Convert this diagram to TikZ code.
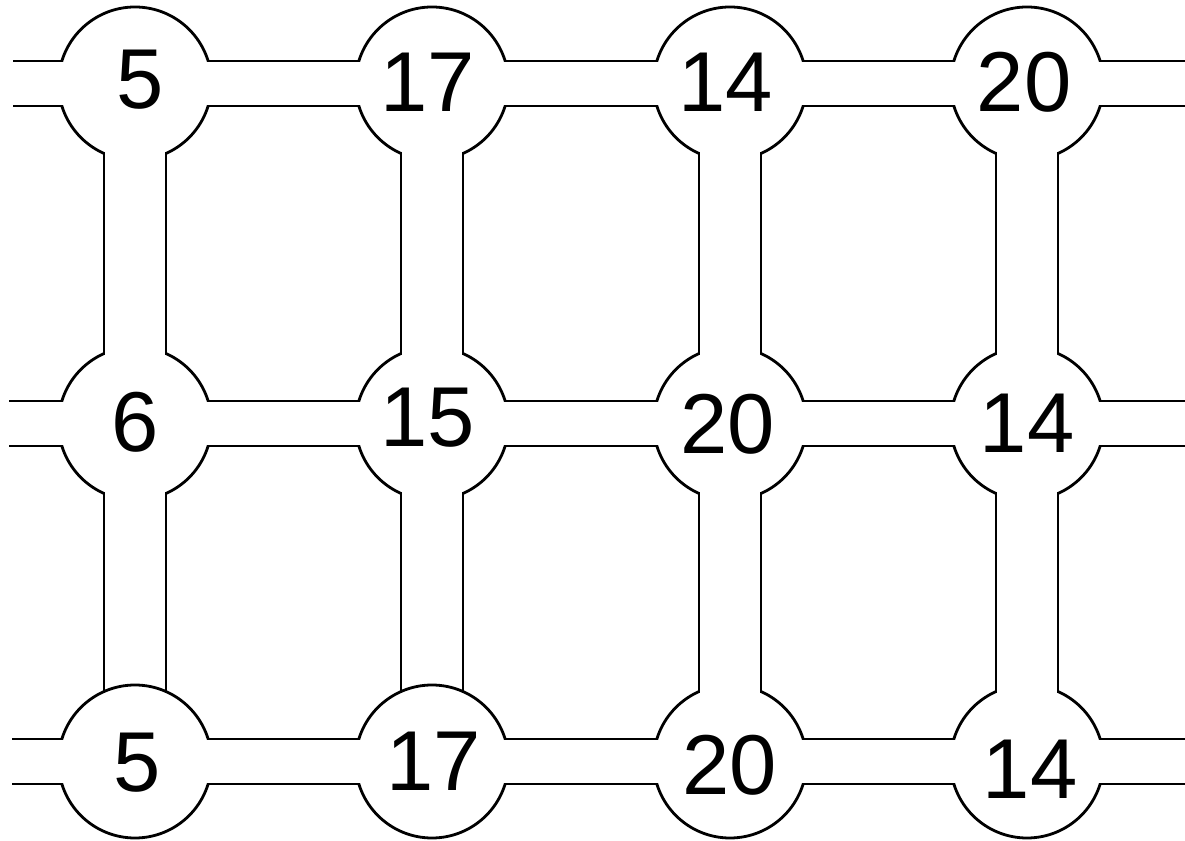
\documentclass[tikz,border=0pt]{standalone}
\usepackage{fontspec}
\setmainfont{Liberation Sans}
\usetikzlibrary{calc}

\begin{document}
\begin{tikzpicture}[x=1pt,y=1pt,
  room/.style={circle,draw=black,fill=white,line width=2.8pt,
               minimum size=153pt,inner sep=0pt},
  num/.style={font=\fontsize{85}{85}\selectfont,inner sep=0pt},
  hall/.style={draw=black,line width=2.8pt,double=white,
               double distance=42.2pt},
  shaft/.style={draw=black,line width=2.8pt,double=white,
                double distance=59.2pt},
  hallgap/.style={draw=white,line width=42.2pt},
  shaftgap/.style={draw=white,line width=59.2pt}
]
  \useasboundingbox (0,0) rectangle (1185,840);
  \clip (0,0) rectangle (1185,840);

  % ---- Room centres and free corridor ends --------------------
  \coordinate (c11) at (135,756.5);  \coordinate (c12) at (432,756.5);
  \coordinate (c13) at (730,756.5);  \coordinate (c14) at (1027,756.5);
  \coordinate (c21) at (135,416.5);  \coordinate (c22) at (432,416.5);
  \coordinate (c23) at (730,416.5);  \coordinate (c24) at (1027,416.5);
  \coordinate (c31) at (135,78.5);   \coordinate (c32) at (432,78.5);
  \coordinate (c33) at (730,78.5);   \coordinate (c34) at (1027,78.5);

  \coordinate (w1) at (13,756.5);  \coordinate (e1) at (1195,756.5);
  \coordinate (w2) at (9,416.5);   \coordinate (e2) at (1195,416.5);
  \coordinate (w3) at (12,78.5);   \coordinate (e3) at (1195,78.5);

  % ---- Corridors ---------------------------------------------
  \draw[hall] (w1) -- (c11) -- (c12) -- (c13) -- (c14) -- (e1);
  \draw[hall] (w2) -- (c21) -- (c22) -- (c23) -- (c24) -- (e2);
  \draw[hall] (w3) -- (c31) -- (c32) -- (c33) -- (c34) -- (e3);

  \draw[shaft] (c11) -- (c21) -- (c31);
  \draw[shaft] (c12) -- (c22) -- (c32);
  \draw[shaft] (c13) -- (c23) -- (c33);
  \draw[shaft] (c14) -- (c24) -- (c34);

  % ---- Rooms -------------------------------------------------
  \node[room] (n11) at (c11) {};  \node[room] (n12) at (c12) {};
  \node[room] (n13) at (c13) {};  \node[room] (n14) at (c14) {};
  \node[room] (n21) at (c21) {};  \node[room] (n22) at (c22) {};
  \node[room] (n23) at (c23) {};  \node[room] (n24) at (c24) {};
  \node[room] (n31) at (c31) {};  \node[room] (n32) at (c32) {};
  \node[room] (n33) at (c33) {};  \node[room] (n34) at (c34) {};

  % ---- Openings (bottom-left two rooms stay closed on top) ---
  \draw[hallgap] (w1) -- (e1);
  \draw[hallgap] (w2) -- (e2);
  \draw[hallgap] (w3) -- (e3);

  \draw[shaftgap] (n11.center) -- ($(n21.center)!.5!(n31.center)$);
  \draw[shaftgap] (n12.center) -- ($(n22.center)!.5!(n32.center)$);
  \draw[shaftgap] (n13.center) -- (n33.center);
  \draw[shaftgap] (n14.center) -- (n34.center);

  % ---- Numbers -----------------------------------------------
  \node[num] (t11) at (140,760) {5};
  \node[num] (t12) at (428,758) {17};
  \node[num] (t13) at (726,757.5) {14};
  \node[num] (t14) at (1024,758) {20};

  \node[num] (t21) at (135,418) {6};
  \node[num] (t22) at (428,422.5) {15};
  \node[num] (t23) at (728,416) {20};
  \node[num] (t24) at (1027,417) {14};

  \node[num] (t31) at (137,77.5) {5};
  \node[num] (t32) at (434,79) {17};
  \node[num] (t33) at (730,75) {20};
  \node[num] (t34) at (1030,71) {14};

\end{tikzpicture}
\end{document}
